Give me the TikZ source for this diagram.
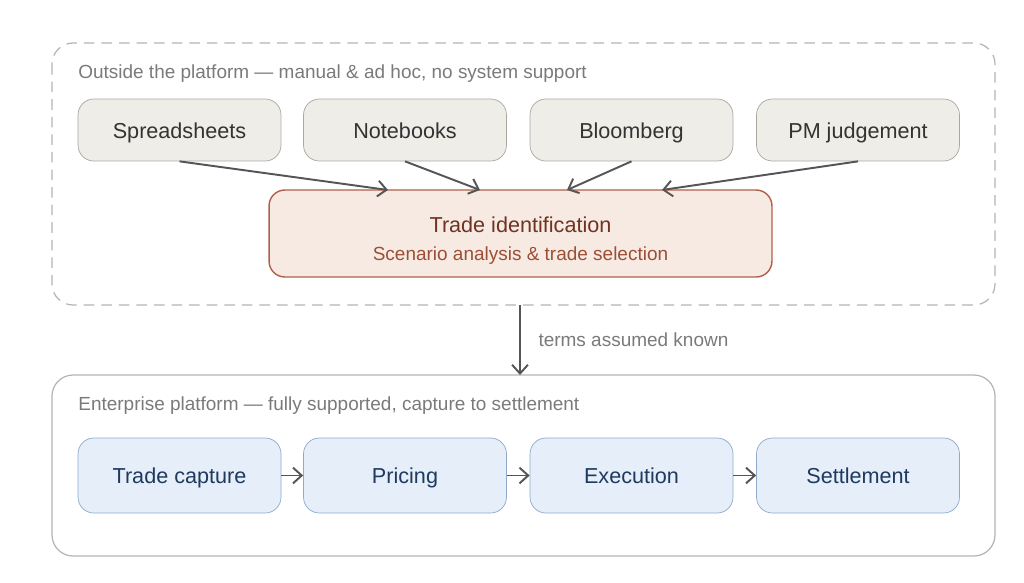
\documentclass[tikz,border=0pt]{standalone}
\usepackage{fontspec}
\setmainfont{Liberation Sans}
\usetikzlibrary{arrows.meta}

\definecolor{framegray}{HTML}{B4B4B4}
\definecolor{notegray}{HTML}{7A7A7A}
\definecolor{toolfill}{HTML}{EFEDE8}
\definecolor{tooldraw}{HTML}{A9A7A2}
\definecolor{tooltext}{HTML}{333333}
\definecolor{idfill}{HTML}{F7EAE3}
\definecolor{iddraw}{HTML}{B0604A}
\definecolor{idtext}{HTML}{6E3323}
\definecolor{idsub}{HTML}{9C4F35}
\definecolor{stepfill}{HTML}{E5EEF9}
\definecolor{stepdraw}{HTML}{8FAAC9}
\definecolor{steptext}{HTML}{1E3A5F}
\definecolor{arrowgray}{HTML}{555555}

\begin{document}
\begin{tikzpicture}[x=0.02cm, y=-0.02cm,
    tool/.style={draw=tooldraw, fill=toolfill, rounded corners=9pt, text=tooltext,
      minimum width=4.06cm, minimum height=1.24cm, text height=11.4pt, text depth=2pt,
      font=\fontsize{12.3}{14}\selectfont},
    stepbox/.style={draw=stepdraw, fill=stepfill, rounded corners=9pt, text=steptext,
      minimum width=4.06cm, minimum height=1.5cm, text height=11.4pt, text depth=2pt,
      font=\fontsize{12.3}{14}\selectfont},
    note/.style={text=notegray, font=\fontsize{10.8}{13}\selectfont, inner sep=0pt},
    flow/.style={-{Straight Barb[length=5pt, width=9pt]}, draw=arrowgray, line width=1.1pt}]

      \useasboundingbox (0,0) rectangle (1024,582);

      % the two areas
      \draw[framegray, dashed, dash pattern=on 6pt off 4pt, rounded corners=12pt, line width=0.7pt]
        (52,43) rectangle (995,305);
      \draw[framegray, rounded corners=12pt, line width=0.7pt] (52,375) rectangle (995,556);

      \node[note, anchor=west] (outside) at (78,74)
        {Outside the platform --- manual \& ad hoc, no system support};
      \node[note, anchor=west] (inside) at (78,406)
        {Enterprise platform --- fully supported, capture to settlement};

      % sources
      \node[tool] (sheets) at (179.5,130) {Spreadsheets};
      \node[tool] (notebooks) at (405,130) {Notebooks};
      \node[tool] (bloomberg) at (631.5,130) {Bloomberg};
      \node[tool] (pm) at (858,130) {PM judgement};

      \node[draw=iddraw, fill=idfill, line width=0.8pt, rounded corners=9pt, minimum width=10.06cm,
        minimum height=1.74cm, align=center] (ident) at (520.5,233.5)
        {{\color{idtext}\fontsize{12.3}{14}\selectfont\rule{0pt}{17pt}Trade identification}\\[4.3pt]
         {\color{idsub}\fontsize{10.8}{13}\selectfont Scenario analysis \& trade selection}};

      \coordinate (in1) at (388,190);
      \coordinate (in2) at (480,190);
      \coordinate (in3) at (567,190);
      \coordinate (in4) at (662,190);

      \draw[flow] (sheets.south) -- (in1);
      \draw[flow] (notebooks.south) -- (in2);
      \draw[flow] (bloomberg.south) -- (in3);
      \draw[flow] (pm.south) -- (in4);

      % hand-over
      \coordinate (handoff) at (520,305);
      \coordinate (landing) at (520,375);
      \draw[flow] (handoff) -- node[note, right=10pt] (known) {terms assumed known} (landing);

      % platform steps
      \node[stepbox] (capture) at (179.5,475.5) {Trade capture};
      \node[stepbox] (pricing) at (405,475.5) {Pricing};
      \node[stepbox] (execution) at (631.5,475.5) {Execution};
      \node[stepbox] (settlement) at (858,475.5) {Settlement};

      \draw[flow] (capture) -- (pricing);
      \draw[flow] (pricing) -- (execution);
      \draw[flow] (execution) -- (settlement);
    \end{tikzpicture}
\end{document}
